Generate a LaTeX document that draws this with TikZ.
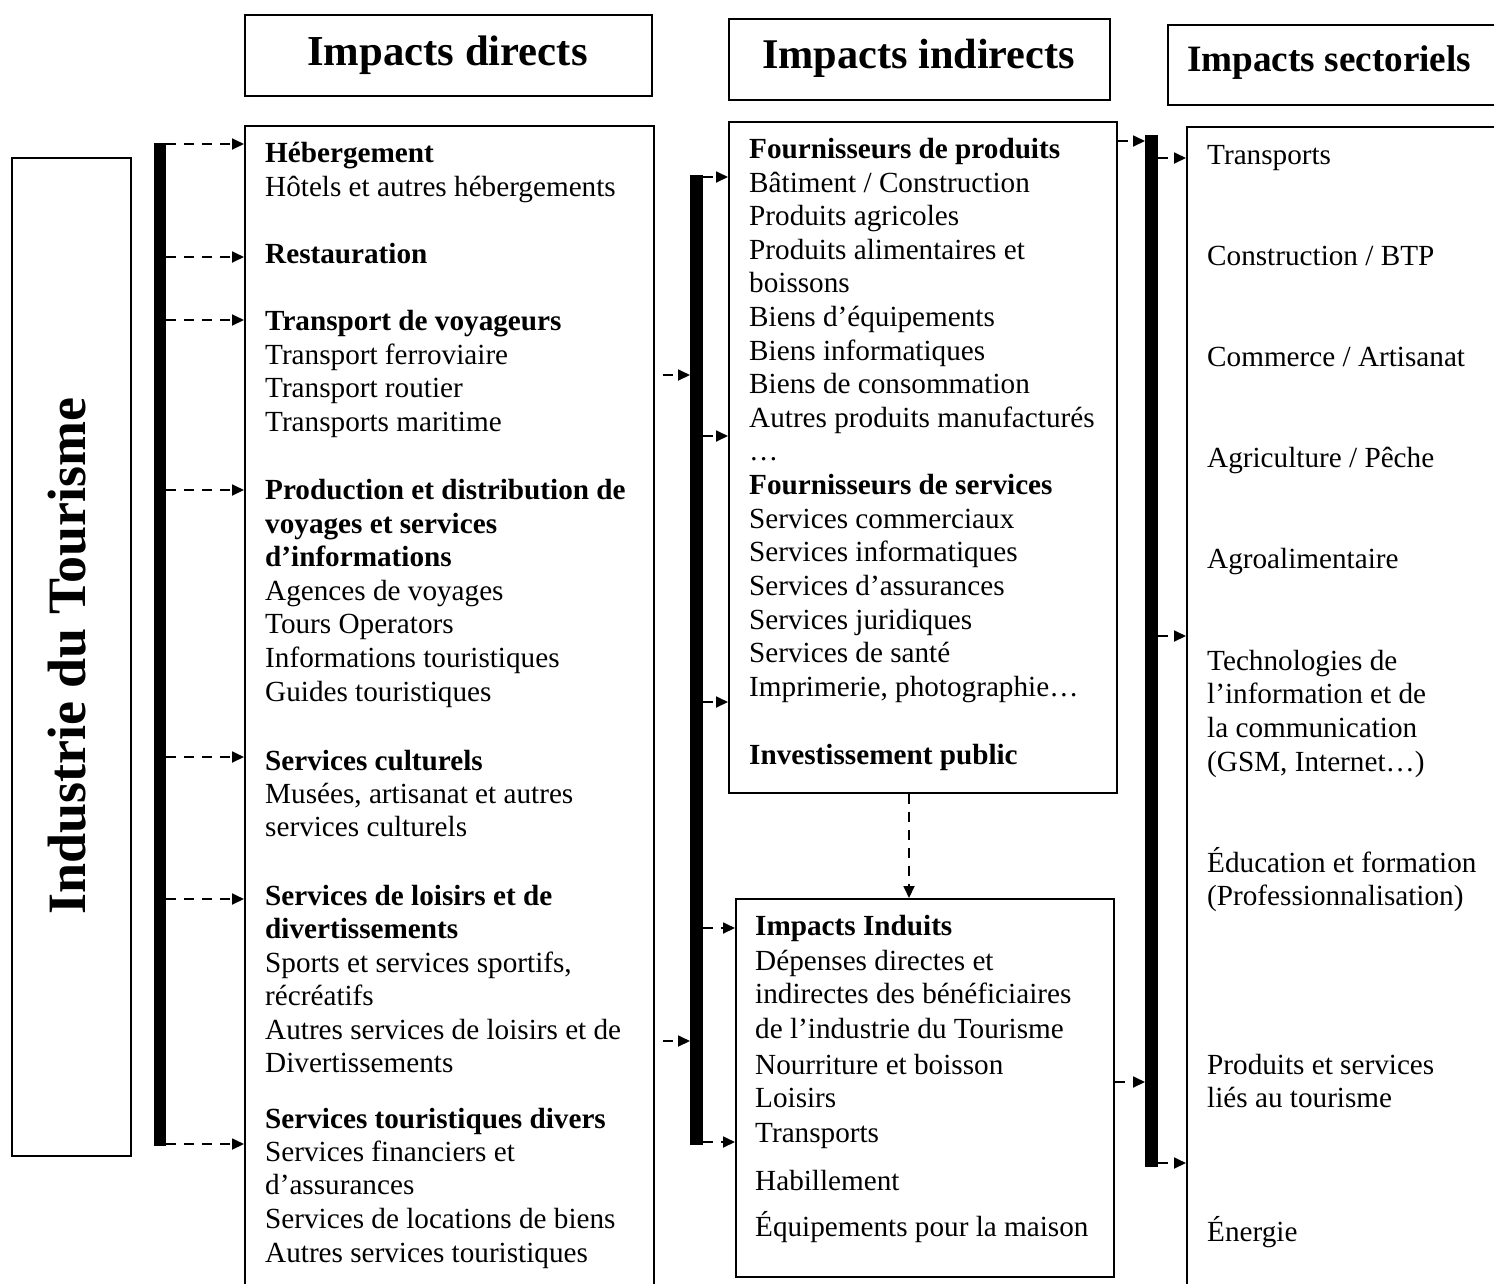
\documentclass[tikz,border=0pt]{standalone}
\usepackage{fontspec}
\setmainfont{Liberation Serif}
\usetikzlibrary{arrows.meta}
\tikzset{
  box/.style={draw, line width=1.6pt, inner sep=0pt, anchor=north west},
  barstyle/.style={fill=black, draw=none, inner sep=0pt, anchor=north west},
  txt/.style={anchor=base west, inner sep=0pt, font=\fontsize{29.2pt}{33.6pt}\selectfont},
  btxt/.style={anchor=base west, inner sep=0pt, font=\fontsize{29.2pt}{33.6pt}\selectfont\bfseries},
  darr/.style={line width=1.8pt, dash pattern=on 10pt off 8pt, -{Triangle[length=12pt,width=11pt]}},
  darrg/.style={darr, dash phase=10pt},
}
\begin{document}
\begin{tikzpicture}[x=1pt,y=-1pt]
\useasboundingbox (0,0) rectangle (1494,1283);
\clip (0,0) rectangle (1494,1283);

% headers
\node[box, minimum width=407pt, minimum height=81pt] (h1) at (244,14) {};
\node[box, minimum width=381pt, minimum height=81pt] (h2) at (728,18) {};
\node[box, minimum width=400pt, minimum height=80pt] (h3) at (1167,24) {};
\node[anchor=base, inner sep=0pt, font=\fontsize{42.7pt}{48pt}\selectfont\bfseries] (h1t) at (447.5,65) {Impacts directs};
\node[anchor=base, inner sep=0pt, font=\fontsize{42.3pt}{48pt}\selectfont\bfseries] (h2t) at (918.5,68) {Impacts indirects};
\node[anchor=base west, inner sep=0pt, font=\fontsize{37.2pt}{42pt}\selectfont\bfseries] (h3t) at (1187,71) {Impacts sectoriels};

% main boxes
\node[box, minimum width=119pt, minimum height=998pt] (ind) at (11,157) {};
\node[anchor=base, rotate=90, inner sep=0pt, font=\fontsize{54pt}{60pt}\selectfont\bfseries] (indt) at (85,656) {Industrie du Tourisme};
\node[box, minimum width=409pt, minimum height=1200pt] (boxD) at (244,125) {};
\node[box, minimum width=388pt, minimum height=671pt] (boxI) at (728,121) {};
\node[box, minimum width=378pt, minimum height=378pt] (boxN) at (735,898) {};
\node[box, minimum width=400pt, minimum height=1200pt] (boxS) at (1186,126) {};

% bars
\node[barstyle, minimum width=12pt, minimum height=1003pt] (barL) at (154,143) {};
\node[barstyle, minimum width=13pt, minimum height=970pt] (barM) at (690,175) {};
\node[barstyle, minimum width=13pt, minimum height=1032pt] (barR) at (1145,135) {};

% left box text
\node[btxt] (d1) at (265,162) {Hébergement};
\node[txt] (d2) at (265,196) {Hôtels et autres hébergements};
\node[btxt] (d3) at (265,263) {Restauration};
\node[btxt] (d4) at (265,330) {Transport de voyageurs};
\node[txt] (d5) at (265,364) {Transport ferroviaire};
\node[txt] (d6) at (265,397) {Transport routier};
\node[txt] (d7) at (265,431) {Transports maritime};
\node[btxt] (d8) at (265,499) {Production et distribution de};
\node[btxt] (d9) at (265,533) {voyages et services};
\node[btxt] (d10) at (265,566) {d’informations};
\node[txt] (d11) at (265,600) {Agences de voyages};
\node[txt] (d12) at (265,633) {Tours Operators};
\node[txt] (d13) at (265,667) {Informations touristiques};
\node[txt] (d14) at (265,701) {Guides touristiques};
\node[btxt] (d15) at (265,770) {Services culturels};
\node[txt] (d16) at (265,803) {Musées, artisanat et autres};
\node[txt] (d17) at (265,836) {services culturels};
\node[btxt] (d18) at (265,905) {Services de loisirs et de};
\node[btxt] (d19) at (265,938) {divertissements};
\node[txt] (d20) at (265,972) {Sports et services sportifs,};
\node[txt] (d21) at (265,1005) {récréatifs};
\node[txt] (d22) at (265,1039) {Autres services de loisirs et de};
\node[txt] (d23) at (265,1072) {Divertissements};
\node[btxt] (d24) at (265,1128) {Services touristiques divers};
\node[txt] (d25) at (265,1161) {Services financiers et};
\node[txt] (d26) at (265,1194) {d’assurances};
\node[txt] (d27) at (265,1228) {Services de locations de biens};
\node[txt] (d28) at (265,1262) {Autres services touristiques};

% middle box text
\node[btxt] (i1) at (749,158.5) {Fournisseurs de produits};
\node[txt] (i2) at (749,192) {Bâtiment / Construction};
\node[txt] (i3) at (749,225.7) {Produits agricoles};
\node[txt] (i4) at (749,259.3) {Produits alimentaires et};
\node[txt] (i5) at (749,292.9) {boissons};
\node[txt] (i6) at (749,326.5) {Biens d’équipements};
\node[txt] (i7) at (749,360) {Biens informatiques};
\node[txt] (i8) at (749,393.7) {Biens de consommation};
\node[txt] (i9) at (749,427.3) {Autres produits manufacturés};
\node[txt] (i10) at (749,460.9) {…};
\node[btxt] (i11) at (749,494.5) {Fournisseurs de services};
\node[txt] (i12) at (749,528) {Services commerciaux};
\node[txt] (i13) at (749,561.7) {Services informatiques};
\node[txt] (i14) at (749,595.3) {Services d’assurances};
\node[txt] (i15) at (749,629) {Services juridiques};
\node[txt] (i16) at (749,662.5) {Services de santé};
\node[txt] (i17) at (749,696) {Imprimerie, photographie…};
\node[btxt] (i18) at (749,764) {Investissement public};

% induced box text
\node[btxt] (n1) at (755,935) {Impacts Induits};
\node[txt] (n2) at (755,970) {Dépenses directes et};
\node[txt] (n3) at (755,1003) {indirectes des bénéficiaires};
\node[txt] (n4) at (755,1038) {de l’industrie du Tourisme};
\node[txt] (n5) at (755,1074) {Nourriture et boisson};
\node[txt] (n6) at (755,1107) {Loisirs};
\node[txt] (n7) at (755,1142) {Transports};
\node[txt] (n8) at (755,1190) {Habillement};
\node[txt] (n9) at (755,1236) {Équipements pour la maison};

% sector box text
\node[txt] (s1) at (1207,164) {Transports};
\node[txt] (s2) at (1207,265) {Construction / BTP};
\node[txt] (s3) at (1207,366) {Commerce / Artisanat};
\node[txt] (s4) at (1207,467) {Agriculture / Pêche};
\node[txt] (s5) at (1207,568) {Agroalimentaire};
\node[txt] (s6) at (1207,670) {Technologies de};
\node[txt] (s7) at (1207,703) {l’information et de};
\node[txt] (s8) at (1207,737) {la communication};
\node[txt] (s9) at (1207,771) {(GSM, Internet…)};
\node[txt] (s10) at (1207,872) {Éducation et formation};
\node[txt] (s11) at (1207,905) {(Professionnalisation)};
\node[txt] (s12) at (1207,1074) {Produits et services};
\node[txt] (s13) at (1207,1107) {liés au tourisme};
\node[txt] (s14) at (1207,1241) {Énergie};

% arrows: left bar -> direct impacts
\foreach \yy in {144,257,320,490,757,899,1144}
  \draw[darr] (barL.east |- 0,\yy) -- (boxD.west |- 0,\yy);
% direct impacts -> middle bar
\foreach \yy in {375,1041}
  \draw[darrg] (boxD.east |- 0,\yy) -- (barM.west |- 0,\yy);
% middle bar -> suppliers / induced
\foreach \yy in {177,436,702}
  \draw[darr] (barM.east |- 0,\yy) -- (boxI.west |- 0,\yy);
\foreach \yy in {928,1142}
  \draw[darr] (barM.east |- 0,\yy) -- (boxN.west |- 0,\yy);
% suppliers -> induced
\draw[darr] (boxI.south -| 909,0) -- (boxN.north -| 909,0);
% into right bar
\draw[darr] (boxI.east |- 0,141) -- (barR.west |- 0,141);
\draw[darr] (boxN.east |- 0,1082) -- (barR.west |- 0,1082);
% right bar -> sectors
\foreach \yy in {158,636,1163}
  \draw[darr] (barR.east |- 0,\yy) -- (boxS.west |- 0,\yy);
\end{tikzpicture}
\end{document}
